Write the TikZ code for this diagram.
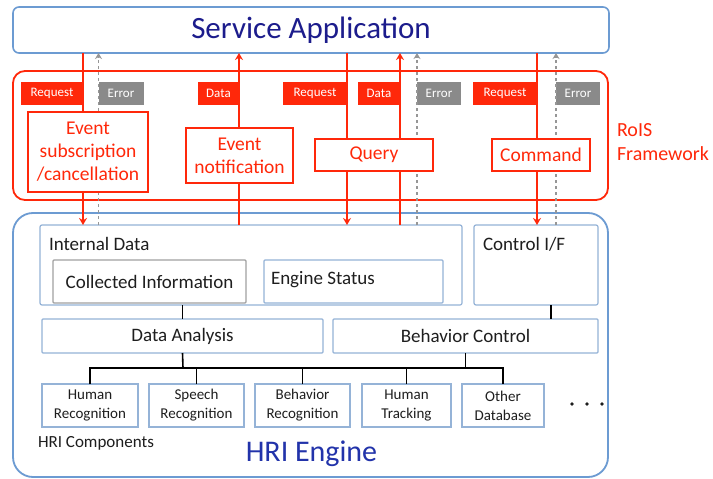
\documentclass[tikz,border=0pt]{standalone}
\usepackage{fontspec}
\setmainfont{Carlito}
\usetikzlibrary{arrows.meta}
\definecolor{roisred}{RGB}{255,40,10}
\definecolor{lblgray}{RGB}{138,138,138}
\definecolor{dashgray}{RGB}{150,150,150}
\definecolor{outerblue}{RGB}{108,155,210}
\definecolor{innerblue}{RGB}{149,179,215}
\definecolor{svctext}{RGB}{28,28,140}
\definecolor{hritext}{RGB}{34,51,170}
\definecolor{boxgray}{RGB}{160,160,160}
\definecolor{txt}{RGB}{30,30,30}
\tikzset{
  bx/.style={inner sep=0pt, outer sep=0pt, align=center},
  redlbl/.style={bx, fill=roisred, text=white, font=\fontsize{13}{15}\selectfont, minimum height=23pt},
  graylbl/.style={bx, fill=lblgray, text=white, font=\fontsize{13}{15}\selectfont, minimum height=23pt},
  redbox/.style={bx, draw=roisred, line width=1.6pt, fill=white, text=roisred, font=\fontsize{19.5}{23}\selectfont},
  bigblue/.style={bx, draw=outerblue, line width=1.6pt, rounded corners=6pt, fill=white},
  innerbox/.style={bx, draw=innerblue, line width=1.2pt, rounded corners=2pt, fill=white, text=txt, font=\fontsize{19}{22}\selectfont},
  compbox/.style={bx, draw=innerblue, line width=1.2pt, fill=white, text=txt, font=\fontsize{15}{19}\selectfont, minimum height=43pt},
  redarrow/.style={draw=roisred, line width=1.6pt, -{Stealth[length=7pt,width=8pt]}},
  grayarrow/.style={draw=dashgray, line width=1.3pt, dash pattern=on 3.5pt off 2.5pt, -{Stealth[length=6pt,width=7pt]}},
  conn/.style={draw=black, line width=1.6pt}
}
\begin{document}
\begin{tikzpicture}[x=1pt,y=-1pt]
\useasboundingbox (0,0) rectangle (713,479);
\fill[white] (0,0) rectangle (713,479);

% Service Application
\node[bigblue, minimum width=596pt, minimum height=46pt, text=svctext, font=\fontsize{31}{36}\selectfont] (svc) at (311,30) {Service Application};

% RoIS frame
\node[bx, draw=roisred, line width=1.8pt, rounded corners=12pt, minimum width=595pt, minimum height=129pt] (rois) at (310.5,135.5) {};
\node[bx, anchor=west, text=roisred, font=\fontsize{20}{24}\selectfont, align=left] (roislbl) at (617,142) {RoIS\\Framework};

% HRI Engine frame
\node[bx, draw=outerblue, line width=1.8pt, rounded corners=20pt, minimum width=595pt, minimum height=264pt] (hri) at (310.5,345) {};

% Engine inner boxes
\node[innerbox, minimum width=422pt, minimum height=80pt] (intdata) at (251,265) {};
\node[bx, anchor=base west, text=txt, font=\fontsize{19}{22}\selectfont] (intdatalbl) at (49,250) {Internal Data};
\node[innerbox, draw=boxgray, rounded corners=1pt, minimum width=193pt, minimum height=43pt] (coll) at (149.5,281.5) {Collected Information};
\node[innerbox, rounded corners=1pt, minimum width=179pt, minimum height=43pt] (eng) at (353.5,281.5) {};
\node[bx, anchor=base west, text=txt, font=\fontsize{19}{22}\selectfont] (englbl) at (271,284) {Engine Status};
\node[innerbox, minimum width=124pt, minimum height=80pt] (ctrl) at (536,265) {};
\node[bx, anchor=base west, text=txt, font=\fontsize{19}{22}\selectfont] (ctrllbl) at (483,250) {Control I/F};

\node[innerbox, rounded corners=1pt, minimum width=281pt, minimum height=34pt] (danal) at (182.5,336) {Data Analysis};
\node[innerbox, rounded corners=1pt, minimum width=265pt, minimum height=34pt] (bctrl) at (465.5,336) {Behavior Control};

\node[compbox, minimum width=96pt] (hr) at (90,405.5) {Human\\Recognition};
\node[compbox, minimum width=95pt] (sr) at (196.5,405.5) {Speech\\Recognition};
\node[compbox, minimum width=95pt] (br) at (302.5,405.5) {Behavior\\Recognition};
\node[compbox, minimum width=89pt] (ht) at (406.5,405.5) {Human\\Tracking};
\node[compbox, minimum width=82pt] (od) at (503,405.5) {Other\\Database};

\node[bx, anchor=base west, text=txt, font=\fontsize{17}{20}\selectfont] (hricomp) at (38,447) {HRI Components};
\node[bx, anchor=base, text=hritext, font=\fontsize{30}{34}\selectfont] (hrieng) at (311.5,461) {HRI Engine};

\fill[txt] (572,404) circle (1.8pt) (587,404) circle (1.8pt) (602,404) circle (1.8pt);

% internal connectors
\coordinate (bus) at (183,368);
\coordinate (ctrlx) at (551,0);
\draw[conn] (intdata.south -| danal) -- (danal.north);
\draw[conn] (ctrl.south -| ctrlx) -- (bctrl.north -| ctrlx);
\draw[conn] (danal.south) -- (bus);
\draw[conn] (bctrl.south) -- (bctrl.south |- bus);
\draw[conn] (hr.north) -- (hr.north |- bus) -- (od.north |- bus) -- (od.north);
\draw[conn] (sr.north) -- (sr.north |- bus);
\draw[conn] (br.north) -- (br.north |- bus);
\draw[conn] (ht.north) -- (ht.north |- bus);

% labels (positions define the arrow x positions)
\node[redlbl, minimum width=62pt] (req1) at (52,93.5) {Request};
\node[graylbl, minimum width=45pt] (err1) at (121,93.5) {Error};
\node[redlbl, minimum width=41pt] (dat1) at (218.5,93.5) {Data};
\node[redlbl, minimum width=64pt] (req2) at (315,93.5) {Request};
\node[redlbl, minimum width=42pt] (dat2) at (379,93.5) {Data};
\node[graylbl, minimum width=44pt] (err2) at (439,93.5) {Error};
\node[redlbl, minimum width=64pt] (req3) at (505,93.5) {Request};
\node[graylbl, minimum width=44pt] (err3) at (578,93.5) {Error};

% arrows
\draw[redarrow] (svc.south -| req1.east) -- (intdata.north -| req1.east);
\draw[grayarrow] (intdata.north -| err1.west) -- (svc.south -| err1.west);
\draw[redarrow] (intdata.north -| dat1.east) -- (svc.south -| dat1.east);
\draw[redarrow] (svc.south -| req2.east) -- (intdata.north -| req2.east);
\draw[redarrow] (intdata.north -| dat2.east) -- (svc.south -| dat2.east);
\draw[grayarrow] (intdata.north -| err2.west) -- (svc.south -| err2.west);
\draw[redarrow] (svc.south -| req3.east) -- (ctrl.north -| req3.east);
\draw[grayarrow] (ctrl.north -| err3.west) -- (svc.south -| err3.west);

% RoIS function boxes
\node[redbox, minimum width=120pt, minimum height=80pt] (evsub) at (88,152) {Event\\subscription\\/cancellation};
\node[redbox, minimum width=107pt, minimum height=55pt] (evnot) at (239.5,155.5) {Event\\notification};
\node[redbox, minimum width=118pt, minimum height=32pt] (query) at (374,155) {Query};
\node[redbox, minimum width=98pt, minimum height=32pt] (cmd) at (541,155) {Command};
\end{tikzpicture}
\end{document}
